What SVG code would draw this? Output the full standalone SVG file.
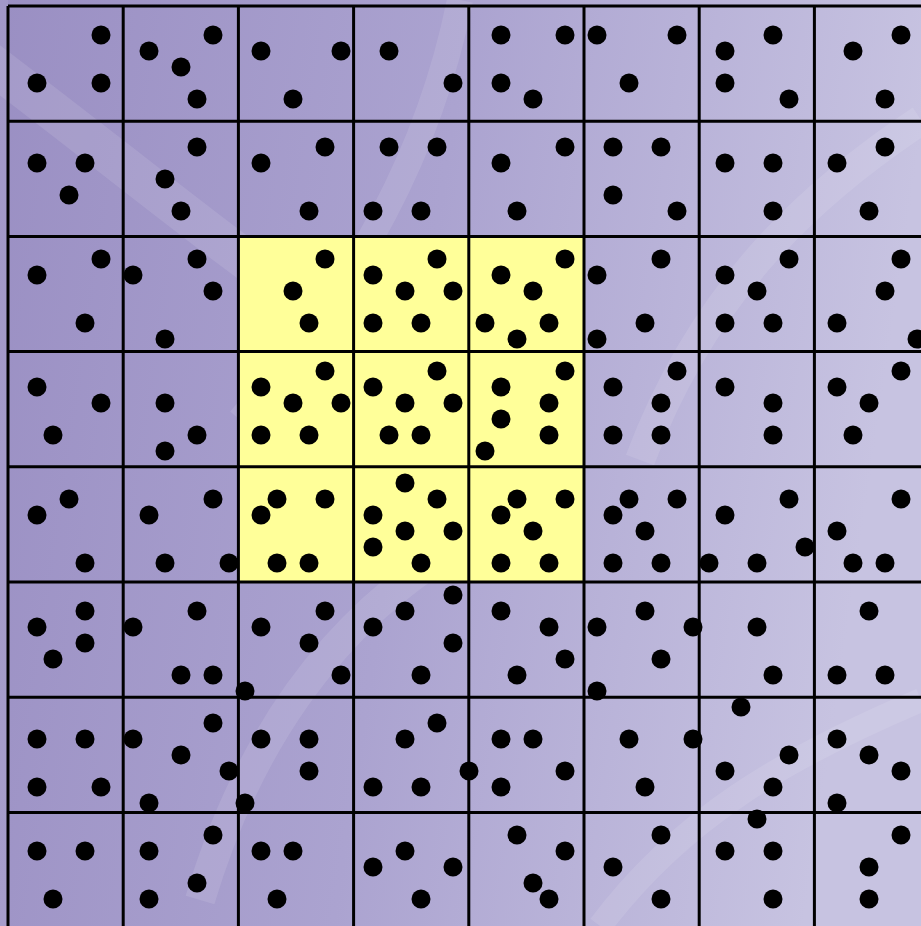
<svg xmlns="http://www.w3.org/2000/svg" width="921" height="926" viewBox="0 0 921 926">
<style>
.g{stroke:#000;stroke-width:3;fill:none}
.d{fill:#000}
.sw{fill:none;stroke:#fff;stroke-opacity:0.10}
</style>
<defs>
<linearGradient id="bg" x1="0" y1="0" x2="1" y2="0.15">
<stop offset="0" stop-color="#9a8fc3"/>
<stop offset="0.5" stop-color="#aba3d0"/>
<stop offset="1" stop-color="#c7c3e1"/>
</linearGradient>
<circle id="p" r="9.5"/>
</defs>
<rect width="921" height="926" fill="url(#bg)"/>
<rect x="0" y="0" width="8" height="926" fill="#fff" fill-opacity="0.08"/>
<g id="swirls">
<path class="sw" stroke-width="40" d="M-40,40 C120,160 200,230 330,320"/>
<path class="sw" stroke-width="30" d="M200,900 C260,700 380,560 560,500"/>
<path class="sw" stroke-width="26" d="M460,0 C430,150 360,280 240,420"/>
<path class="sw" stroke-width="30" d="M921,120 C800,200 700,300 640,460"/>
<path class="sw" stroke-width="24" d="M600,926 C680,820 780,760 921,700"/>
</g>
<g id="highlight">
<rect x="238.4" y="236.4" width="345.6" height="345.6" fill="#ffff99"/>
</g>
<g id="connectors">
<path class="g" d="M8,6V926M123.2,6V926M238.4,6V926M353.6,6V926M468.8,6V926M584,6V926M699.2,6V926M814.4,6V926"/>
<path class="g" d="M8,6H921M8,121.2H921M8,236.4H921M8,351.6H921M8,466.8H921M8,582H921M8,697.2H921M8,812.4H921"/>
</g>
<g id="dots" class="d">
<g id="row0">
<use href="#p" x="101" y="35"/><use href="#p" x="37" y="83"/><use href="#p" x="101" y="83"/>
<use href="#p" x="149" y="51"/><use href="#p" x="181" y="67"/><use href="#p" x="213" y="35"/><use href="#p" x="197" y="99"/>
<use href="#p" x="261" y="51"/><use href="#p" x="293" y="99"/><use href="#p" x="341" y="51"/>
<use href="#p" x="389" y="51"/><use href="#p" x="453" y="83"/>
<use href="#p" x="501" y="35"/><use href="#p" x="565" y="35"/><use href="#p" x="501" y="83"/><use href="#p" x="533" y="99"/>
<use href="#p" x="597" y="35"/><use href="#p" x="677" y="35"/><use href="#p" x="629" y="83"/>
<use href="#p" x="725" y="51"/><use href="#p" x="773" y="35"/><use href="#p" x="725" y="83"/><use href="#p" x="789" y="99"/>
<use href="#p" x="853" y="51"/><use href="#p" x="901" y="35"/><use href="#p" x="885" y="99"/>
</g>
<g id="row1">
<use href="#p" x="37" y="163"/><use href="#p" x="85" y="163"/><use href="#p" x="69" y="195"/>
<use href="#p" x="197" y="147"/><use href="#p" x="165" y="179"/><use href="#p" x="181" y="211"/>
<use href="#p" x="261" y="163"/><use href="#p" x="325" y="147"/><use href="#p" x="309" y="211"/>
<use href="#p" x="389" y="147"/><use href="#p" x="437" y="147"/><use href="#p" x="373" y="211"/><use href="#p" x="421" y="211"/>
<use href="#p" x="501" y="163"/><use href="#p" x="565" y="147"/><use href="#p" x="517" y="211"/>
<use href="#p" x="613" y="147"/><use href="#p" x="661" y="147"/><use href="#p" x="613" y="195"/><use href="#p" x="677" y="211"/>
<use href="#p" x="725" y="163"/><use href="#p" x="773" y="163"/><use href="#p" x="773" y="211"/>
<use href="#p" x="837" y="163"/><use href="#p" x="885" y="147"/><use href="#p" x="869" y="211"/>
</g>
<g id="row2">
<use href="#p" x="37" y="275"/><use href="#p" x="101" y="259"/><use href="#p" x="85" y="323"/>
<use href="#p" x="133" y="275"/><use href="#p" x="197" y="259"/><use href="#p" x="213" y="291"/><use href="#p" x="165" y="339"/>
<use href="#p" x="325" y="259"/><use href="#p" x="293" y="291"/><use href="#p" x="309" y="323"/>
<use href="#p" x="373" y="275"/><use href="#p" x="437" y="259"/><use href="#p" x="405" y="291"/><use href="#p" x="453" y="291"/><use href="#p" x="373" y="323"/><use href="#p" x="421" y="323"/>
<use href="#p" x="501" y="275"/><use href="#p" x="565" y="259"/><use href="#p" x="533" y="291"/><use href="#p" x="485" y="323"/><use href="#p" x="549" y="323"/><use href="#p" x="517" y="339"/>
<use href="#p" x="597" y="275"/><use href="#p" x="661" y="259"/><use href="#p" x="645" y="323"/><use href="#p" x="597" y="339"/>
<use href="#p" x="725" y="275"/><use href="#p" x="789" y="259"/><use href="#p" x="757" y="291"/><use href="#p" x="725" y="323"/><use href="#p" x="773" y="323"/>
<use href="#p" x="901" y="259"/><use href="#p" x="885" y="291"/><use href="#p" x="837" y="323"/><use href="#p" x="917" y="339"/>
</g>
<g id="row3">
<use href="#p" x="37" y="387"/><use href="#p" x="101" y="403"/><use href="#p" x="53" y="435"/>
<use href="#p" x="165" y="403"/><use href="#p" x="197" y="435"/><use href="#p" x="165" y="451"/>
<use href="#p" x="261" y="387"/><use href="#p" x="325" y="371"/><use href="#p" x="293" y="403"/><use href="#p" x="341" y="403"/><use href="#p" x="261" y="435"/><use href="#p" x="309" y="435"/>
<use href="#p" x="373" y="387"/><use href="#p" x="437" y="371"/><use href="#p" x="405" y="403"/><use href="#p" x="453" y="403"/><use href="#p" x="389" y="435"/><use href="#p" x="421" y="435"/>
<use href="#p" x="501" y="387"/><use href="#p" x="565" y="371"/><use href="#p" x="549" y="403"/><use href="#p" x="501" y="419"/><use href="#p" x="549" y="435"/><use href="#p" x="485" y="451"/>
<use href="#p" x="613" y="387"/><use href="#p" x="677" y="371"/><use href="#p" x="661" y="403"/><use href="#p" x="613" y="435"/><use href="#p" x="661" y="435"/>
<use href="#p" x="725" y="387"/><use href="#p" x="773" y="403"/><use href="#p" x="773" y="435"/>
<use href="#p" x="837" y="387"/><use href="#p" x="901" y="371"/><use href="#p" x="869" y="403"/><use href="#p" x="853" y="435"/>
</g>
<g id="row4">
<use href="#p" x="69" y="499"/><use href="#p" x="37" y="515"/><use href="#p" x="85" y="563"/>
<use href="#p" x="213" y="499"/><use href="#p" x="149" y="515"/><use href="#p" x="165" y="563"/><use href="#p" x="229" y="563"/>
<use href="#p" x="277" y="499"/><use href="#p" x="325" y="499"/><use href="#p" x="261" y="515"/><use href="#p" x="277" y="563"/><use href="#p" x="309" y="563"/>
<use href="#p" x="405" y="483"/><use href="#p" x="437" y="499"/><use href="#p" x="373" y="515"/><use href="#p" x="405" y="531"/><use href="#p" x="453" y="531"/><use href="#p" x="373" y="547"/><use href="#p" x="421" y="563"/>
<use href="#p" x="517" y="499"/><use href="#p" x="565" y="499"/><use href="#p" x="501" y="515"/><use href="#p" x="533" y="531"/><use href="#p" x="501" y="563"/><use href="#p" x="549" y="563"/>
<use href="#p" x="629" y="499"/><use href="#p" x="677" y="499"/><use href="#p" x="613" y="515"/><use href="#p" x="645" y="531"/><use href="#p" x="613" y="563"/><use href="#p" x="661" y="563"/>
<use href="#p" x="789" y="499"/><use href="#p" x="725" y="515"/><use href="#p" x="805" y="547"/><use href="#p" x="709" y="563"/><use href="#p" x="757" y="563"/>
<use href="#p" x="901" y="499"/><use href="#p" x="837" y="531"/><use href="#p" x="853" y="563"/><use href="#p" x="885" y="563"/>
</g>
<g id="row5">
<use href="#p" x="85" y="611"/><use href="#p" x="37" y="627"/><use href="#p" x="85" y="643"/><use href="#p" x="53" y="659"/>
<use href="#p" x="197" y="611"/><use href="#p" x="133" y="627"/><use href="#p" x="181" y="675"/><use href="#p" x="213" y="675"/>
<use href="#p" x="325" y="611"/><use href="#p" x="261" y="627"/><use href="#p" x="309" y="643"/><use href="#p" x="341" y="675"/><use href="#p" x="245" y="691"/>
<use href="#p" x="453" y="595"/><use href="#p" x="405" y="611"/><use href="#p" x="373" y="627"/><use href="#p" x="453" y="643"/><use href="#p" x="421" y="675"/>
<use href="#p" x="501" y="611"/><use href="#p" x="549" y="627"/><use href="#p" x="565" y="659"/><use href="#p" x="517" y="675"/>
<use href="#p" x="597" y="627"/><use href="#p" x="597" y="691"/><use href="#p" x="645" y="611"/><use href="#p" x="693" y="627"/><use href="#p" x="661" y="659"/>
<use href="#p" x="757" y="627"/><use href="#p" x="773" y="675"/>
<use href="#p" x="869" y="611"/><use href="#p" x="837" y="675"/><use href="#p" x="885" y="675"/>
</g>
<g id="row6">
<use href="#p" x="37" y="739"/><use href="#p" x="85" y="739"/><use href="#p" x="37" y="787"/><use href="#p" x="101" y="787"/>
<use href="#p" x="213" y="723"/><use href="#p" x="133" y="739"/><use href="#p" x="181" y="755"/><use href="#p" x="229" y="771"/><use href="#p" x="149" y="803"/>
<use href="#p" x="261" y="739"/><use href="#p" x="309" y="739"/><use href="#p" x="309" y="771"/><use href="#p" x="245" y="803"/>
<use href="#p" x="437" y="723"/><use href="#p" x="405" y="739"/><use href="#p" x="373" y="787"/><use href="#p" x="421" y="787"/><use href="#p" x="469" y="771"/>
<use href="#p" x="501" y="739"/><use href="#p" x="533" y="739"/><use href="#p" x="565" y="771"/><use href="#p" x="501" y="787"/>
<use href="#p" x="629" y="739"/><use href="#p" x="693" y="739"/><use href="#p" x="645" y="787"/>
<use href="#p" x="741" y="707"/><use href="#p" x="789" y="755"/><use href="#p" x="725" y="771"/><use href="#p" x="773" y="787"/>
<use href="#p" x="837" y="739"/><use href="#p" x="869" y="755"/><use href="#p" x="901" y="771"/><use href="#p" x="837" y="803"/>
</g>
<g id="row7">
<use href="#p" x="37" y="851"/><use href="#p" x="85" y="851"/><use href="#p" x="53" y="899"/>
<use href="#p" x="213" y="835"/><use href="#p" x="149" y="851"/><use href="#p" x="197" y="883"/><use href="#p" x="149" y="899"/>
<use href="#p" x="261" y="851"/><use href="#p" x="293" y="851"/><use href="#p" x="277" y="899"/>
<use href="#p" x="405" y="851"/><use href="#p" x="373" y="867"/><use href="#p" x="453" y="867"/><use href="#p" x="421" y="899"/>
<use href="#p" x="517" y="835"/><use href="#p" x="565" y="851"/><use href="#p" x="533" y="883"/><use href="#p" x="549" y="899"/>
<use href="#p" x="661" y="835"/><use href="#p" x="613" y="867"/><use href="#p" x="661" y="899"/>
<use href="#p" x="757" y="819"/><use href="#p" x="725" y="851"/><use href="#p" x="773" y="851"/><use href="#p" x="773" y="899"/>
<use href="#p" x="901" y="835"/><use href="#p" x="869" y="867"/><use href="#p" x="869" y="899"/>
</g>
</g>
</svg>
